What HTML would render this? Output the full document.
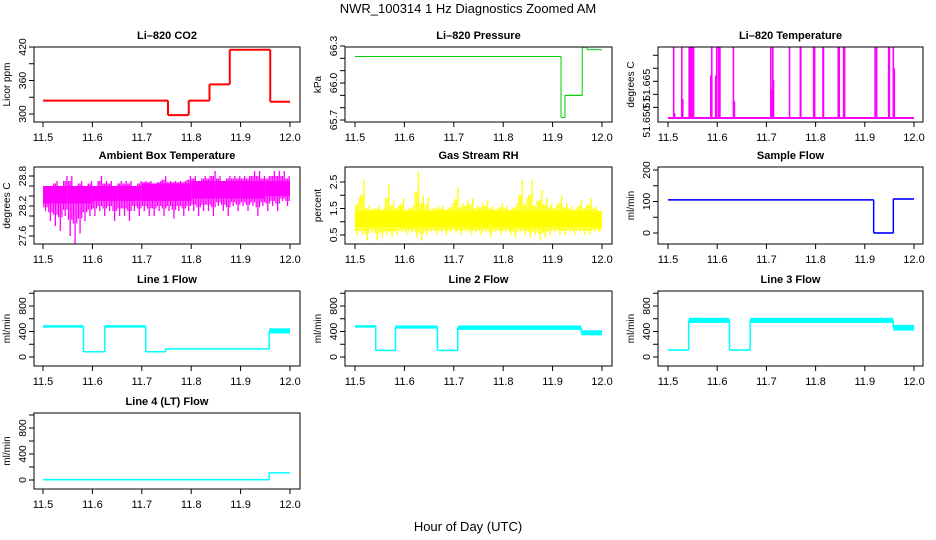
<!DOCTYPE html>
<html><head><meta charset="utf-8"><style>
html,body{margin:0;padding:0;background:#fff;}
svg{display:block;font-family:"Liberation Sans",Arial,sans-serif;}
</style></head><body>
<svg id="chart" width="936" height="540" viewBox="0 0 936 540">
<text x="468" y="13" text-anchor="middle" font-size="13">NWR_100314  1 Hz Diagnostics Zoomed AM</text>
<text x="468" y="531" text-anchor="middle" font-size="13">Hour of Day (UTC)</text>
</svg>
<script>
// ---- data ----
const xTicks = [11.5, 11.6, 11.7, 11.8, 11.9, 12.0];
const xTickLabels = ["11.5", "11.6", "11.7", "11.8", "11.9", "12.0"];

const co2Times = [11.5, 11.753, 11.795, 11.837, 11.878, 11.960, 12.0];
const co2Levels = [324, 298, 324, 353, 415, 322];
const co2Half = [0, 0, 0, 1, 1, 0];

const presTimes = [11.5, 11.917, 11.925, 11.960, 11.970, 12.0];
const presLevels = [66.215, 65.72, 65.90, 66.29, 66.27];
const presHalf = [0.004, 0, 0.004, 0, 0];

const tempBase = 51.650;
const tempSpikeTimes = [11.5115,11.5135,11.528,11.530,11.543,11.545,11.547,11.549,11.552,11.587,11.589,11.597,11.599,11.603,11.6055,11.633,11.635,11.709,11.711,11.713,11.7145,11.747,11.769,11.770,11.796,11.798,11.815,11.816,11.846,11.848,11.857,11.859,11.921,11.924,11.9485,11.950,11.958,11.960];
const tempSpikeValues = [51.680,51.652,51.680,51.658,51.680,51.680,51.680,51.680,51.680,51.668,51.680,51.668,51.680,51.680,51.680,51.680,51.657,51.680,51.662,51.680,51.666,51.680,51.680,51.680,51.680,51.680,51.680,51.680,51.680,51.680,51.680,51.680,51.680,51.680,51.680,51.680,51.680,51.671];

const ambLows = [28.1,27.9,27.8,27.7,28.0,27.6,27.45,27.65,27.9,28.0, 28.0,28.1,28.0,28.1,27.9,28.0,28.0,27.9,28.1,28.0, 28.1,28.0,28.0,28.1,28.0,28.1,27.95,28.1,28.0,28.1, 28.1,28.0,28.1,28.1,28.0,28.2,28.1,28.0,28.2,28.1, 28.2,28.1,28.2,28.0,28.2,28.1,28.2,28.1,28.3,28.2];
const ambHighs = [28.6,28.6,28.7,28.6,28.8,28.8,28.6,28.7,28.6,28.7, 28.6,28.8,28.7,28.7,28.6,28.7,28.7,28.7,28.6,28.7, 28.7,28.7,28.6,28.7,28.8,28.7,28.7,28.7,28.7,28.8, 28.8,28.7,28.8,28.8,28.9,28.8,28.7,28.8,28.8,28.8, 28.8,28.8,28.9,28.9,28.8,28.8,28.9,28.9,28.9,28.8];
const ambCoreLows = [28.25,28.25,28.3,28.3,28.3,28.3,28.35,28.35,28.35,28.4];
const ambCoreHighs = [28.6,28.6,28.6,28.6,28.65,28.65,28.7,28.7,28.7,28.7];

const rhHighs = [1.9,2.6,1.6,1.5,1.6,1.5,2.4,1.8,1.6,1.9, 1.5,1.6,2.9,2.0,1.9,1.5,1.6,1.6,1.5,1.7, 2.3,1.7,1.8,1.9,1.6,1.7,1.8,1.6,1.5,1.7, 1.6,1.5,1.7,2.6,1.9,2.6,1.8,2.2,1.9,1.7, 1.6,2.0,1.7,1.6,1.5,1.8,1.6,1.9,1.6,1.4];
const rhLows = [0.5,0.5,0.3,0.6,0.3,0.4,0.5,0.4,0.5,0.6, 0.5,0.6,0.4,0.3,0.5,0.6,0.5,0.6,0.5,0.6, 0.6,0.5,0.6,0.5,0.6,0.5,0.6,0.4,0.6,0.5, 0.6,0.5,0.4,0.6,0.5,0.4,0.5,0.3,0.4,0.5, 0.6,0.5,0.5,0.6,0.5,0.6,0.5,0.5,0.6,0.6];
const rhCoreLows = [0.8,0.8,0.8,0.8,0.8,0.8,0.8,0.8,0.8,0.8];
const rhCoreHighs = [1.4,1.4,1.4,1.4,1.4,1.4,1.4,1.4,1.4,1.4];

const sampleTimes = [11.5, 11.918, 11.958, 12.0];
const sampleLevels = [105, 0, 108];
const sampleHalf = [2, 2, 2];

const line1Times = [11.5, 11.582, 11.625, 11.708, 11.748, 11.958, 12.0];
const line1Levels = [480, 82, 480, 82, 128, 410];
const line1Half = [20, 5, 20, 5, 5, 40];

const line2Times = [11.5, 11.542, 11.582, 11.667, 11.708, 11.958, 12.0];
const line2Levels = [480, 103, 470, 103, 460, 380];
const line2Half = [20, 5, 25, 5, 35, 40];

const line3Times = [11.5, 11.542, 11.625, 11.667, 11.958, 12.0];
const line3Levels = [110, 575, 110, 575, 460];
const line3Half = [5, 40, 5, 40, 45];

const line4Times = [11.5, 11.958, 12.0];
const line4Levels = [5, 110];
const line4Half = [10, 6];

// ---- drawing ----
const NS = "http://www.w3.org/2000/svg";
const svg = document.getElementById("chart");
function mk(tag, attrs, parent) {
  const e = document.createElementNS(NS, tag);
  for (const k in attrs) e.setAttribute(k, attrs[k]);
  (parent || svg).appendChild(e);
  return e;
}
const cols = [{L:34,R:300,a:43,b:290},{L:345,R:612,a:355,b:602},{L:658,R:923,a:668,b:914}];
const rows = [{T:47,B:122},{T:167,B:244},{T:291,B:366},{T:413,B:489}];

function panel(name, title, ylab, r, c, v1, p1, v2, p2, yTicks, yLabels) {
  const col = cols[c], row = rows[r];
  const g = mk("g", {});
  
  
  const sx = t => col.a + (t - 11.5) / 0.5 * (col.b - col.a);
  const sy = v => p1 + (v - v1) / (v2 - v1) * (p2 - p1);
  const t = mk("text", {x:(col.L+col.R)/2, y:row.T-8, "text-anchor":"middle", "font-size":"11", "font-weight":"bold"}, g);
  t.textContent = title;
  
  
  const yl = mk("text", {x:0, y:0, "text-anchor":"middle", "font-size":"10", transform:`translate(${col.L-24},${(row.T+row.B)/2}) rotate(-90)`}, g);
  yl.textContent = ylab;
  
  
  const xa = mk("g", {}, g);
  
  
  xTicks.forEach((v, i) => {
    const x = sx(v);
    mk("line", {x1:x, x2:x, y1:row.B, y2:row.B+5, stroke:"#000"}, xa);
    const tl = mk("text", {x:x, y:row.B+19, "text-anchor":"middle", "font-size":"11"}, xa);
    tl.textContent = xTickLabels[i];
  });
  const ya = mk("g", {}, g);
  
  
  yTicks.forEach(v => {
    const y = sy(v);
    mk("line", {x1:col.L-5, x2:col.L, y1:y, y2:y, stroke:"#000"}, ya);
  });
  yLabels.forEach(l => {
    const y = sy(l[0]);
    const tl = mk("text", {x:0, y:0, "text-anchor":"middle", "font-size":"10.5", transform:`translate(${col.L-8},${y}) rotate(-90)`}, ya);
    tl.textContent = l[1];
  });
  const plot = mk("g", {}, g);
  
  
  mk("rect", {x:col.L, y:row.T, width:col.R-col.L, height:row.B-row.T, fill:"none", stroke:"#000"}, g);
  return {sx, sy, plot};
}

function steps(p, times, levels, half, color, lw) {
  for (let i = 0; i < levels.length; i++) {
    const x1 = p.sx(times[i]), x2 = p.sx(times[i+1]);
    if (half[i] > 0) {
      const ya = p.sy(levels[i] + half[i]), yb = p.sy(levels[i] - half[i]);
      const rr = mk("rect", {x:x1, y:Math.min(ya,yb), width:x2-x1, height:Math.max(Math.abs(yb-ya),1), fill:color}, p.plot);
      
      
    }
    const ln = mk("line", {x1:x1, x2:x2, y1:p.sy(levels[i]), y2:p.sy(levels[i]), stroke:color, "stroke-width":lw}, p.plot);
    
    
    if (i + 1 < levels.length) {
      const vl = mk("line", {x1:x2, x2:x2, y1:p.sy(levels[i]), y2:p.sy(levels[i+1]), stroke:color, "stroke-width":lw}, p.plot);
      
      
    }
  }
}
function noise(p, lows, highs, coreLows, coreHighs, color) {
  const n = lows.length, w = 0.5 / n;
  for (let i = 0; i < n; i++) {
    const t0 = 11.5 + i * w;
    for (let k = 0; k < 3; k++) {
      const x = p.sx(t0 + w * (k + 0.5) / 3);
      const lo = k === 1 ? lows[i] : (lows[i] + coreLows[Math.floor(i*coreLows.length/n)]) / 2;
      const hi = k === 2 ? highs[i] : (highs[i] + coreHighs[Math.floor(i*coreHighs.length/n)]) / 2;
      const ln = mk("line", {x1:x, x2:x, y1:p.sy(lo), y2:p.sy(hi), stroke:color, "stroke-width":1.3}, p.plot);
      
      
    }
  }
  const m = coreLows.length, cw = 0.5 / m;
  for (let j = 0; j < m; j++) {
    const x1 = p.sx(11.5 + j*cw), x2 = p.sx(11.5 + (j+1)*cw);
    const rr = mk("rect", {x:x1, y:p.sy(coreHighs[j]), width:x2-x1, height:p.sy(coreLows[j])-p.sy(coreHighs[j]), fill:color}, p.plot);
    
    
  }
}

// Row 1
let p = panel("co2-panel", "Li\u2013820 CO2", "Licor ppm", 0, 0, 300, 114, 420, 47, [300,330,360,390,420], [[300,"300"],[360,"360"],[420,"420"]]);
steps(p, co2Times, co2Levels, co2Half, "#ff0000", 2);

p = panel("pressure-panel", "Li\u2013820 Pressure", "kPa", 0, 1, 65.7, 120, 66.3, 46, [65.7,65.8,65.9,66.0,66.1,66.2,66.3], [[65.7,"65.7"],[66.0,"66.0"],[66.3,"66.3"]]);
steps(p, presTimes, presLevels, presHalf, "#00cc00", 1);

p = panel("temperature-panel", "Li\u2013820 Temperature", "degrees C", 0, 2, 51.650, 118, 51.680, 47, [51.6545,51.6600,51.6655,51.6710,51.6765], [[51.6485,"51.650"],[51.6565,"51"],[51.6640,"51.665"]]);
{
  const bl = mk("line", {x1:p.sx(11.5), x2:p.sx(12.0), y1:p.sy(tempBase), y2:p.sy(tempBase), stroke:"#ff00ff", "stroke-width":2}, p.plot);
  
  
  tempSpikeTimes.forEach((t, i) => {
    const s = mk("line", {x1:p.sx(t), x2:p.sx(t), y1:p.sy(tempBase), y2:p.sy(tempSpikeValues[i]), stroke:"#ff00ff", "stroke-width":1.6}, p.plot);
    
    
  });
}

// Row 2
p = panel("ambient-temperature-panel", "Ambient Box Temperature", "degrees C", 1, 0, 27.6, 236, 28.8, 176, [27.6,27.8,28.0,28.2,28.4,28.6,28.8], [[27.6,"27.6"],[28.2,"28.2"],[28.8,"28.8"]]);
noise(p, ambLows, ambHighs, ambCoreLows, ambCoreHighs, "#ff00ff");

p = panel("gas-rh-panel", "Gas Stream RH", "percent", 1, 1, 0.5, 235, 2.5, 182, [0.5,1.0,1.5,2.0,2.5], [[0.5,"0.5"],[1.5,"1.5"],[2.5,"2.5"]]);
noise(p, rhLows, rhHighs, rhCoreLows, rhCoreHighs, "#ffff00");

p = panel("sample-flow-panel", "Sample Flow", "ml/min", 1, 2, 0, 233, 200, 170, [0,50,100,150,200], [[0,"0"],[100,"100"],[200,"200"]]);
steps(p, sampleTimes, sampleLevels, sampleHalf, "#0000ff", 1.5);

// Rows 3-4
const flowTicks = [0,200,400,600,800,1000];
const flowLabels = [[0,"0"],[400,"400"],[800,"800"]];
p = panel("line1-flow-panel", "Line 1 Flow", "ml/min", 2, 0, 0, 357, 800, 306, flowTicks, flowLabels);
steps(p, line1Times, line1Levels, line1Half, "#00ffff", 1.5);
p = panel("line2-flow-panel", "Line 2 Flow", "ml/min", 2, 1, 0, 357, 800, 306, flowTicks, flowLabels);
steps(p, line2Times, line2Levels, line2Half, "#00ffff", 1.5);
p = panel("line3-flow-panel", "Line 3 Flow", "ml/min", 2, 2, 0, 357, 800, 306, flowTicks, flowLabels);
steps(p, line3Times, line3Levels, line3Half, "#00ffff", 1.5);
p = panel("line4-flow-panel", "Line 4 (LT) Flow", "ml/min", 3, 0, 0, 480, 800, 428, flowTicks, flowLabels);
steps(p, line4Times, line4Levels, line4Half, "#00ffff", 1.5);
</script>
</body></html>
